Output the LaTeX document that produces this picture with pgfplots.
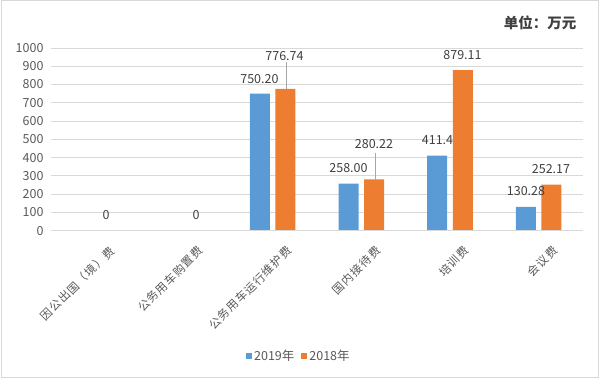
\documentclass[border=0pt]{standalone}
\usepackage{fontspec}
\setmainfont{Noto Sans CJK SC}
\newfontfamily\cjkls[LetterSpace=8]{Noto Sans CJK SC}
\usepackage{pgfplots}
\pgfplotsset{compat=1.18}
\definecolor{myblue}{HTML}{5B9BD5}
\definecolor{myorange}{HTML}{ED7D31}
\definecolor{gridgray}{HTML}{D9D9D9}
\definecolor{ticktext}{HTML}{595959}
\definecolor{labtext}{HTML}{404040}
\definecolor{leader}{HTML}{A6A6A6}
\begin{document}
\begin{tikzpicture}[x=1pt,y=1pt]
\useasboundingbox (0,0) rectangle (600,379);
\draw[gridgray, line width=1pt] (1,1.5) rectangle (598,378);
\node[font=\fontsize{14.5}{16}\selectfont\bfseries, text=labtext] at (540,356) {单位：万元};
\begin{axis}[
  at={(51pt,148.3pt)}, anchor=south west,
  scale only axis, width=532pt, height=182.7pt,
  xmin=-0.5, xmax=5.5, ymin=0, ymax=1000,
  enlargelimits=false,
  axis line style={draw=none},
  major tick length=0pt,
  ytick={0,100,...,1000},
  xtick={0,1,2,3,4,5},
  xticklabels={因公出国（境）费,公务用车购置费,公务用车运行维护费,国内接待费,培训费,会议费},
  ymajorgrids, grid style={gridgray, line width=0.8pt},
  /pgf/number format/assume math mode=true,
  /pgf/number format/1000 sep={},
  yticklabel style={font=\fontsize{12.5}{14}\selectfont, text=ticktext, xshift=-4pt},
  xticklabel style={font=\cjkls\fontsize{11.5}{13}\selectfont, text=ticktext, inner sep=0pt,
     xshift=13pt, yshift=-14pt, rotate=45, anchor=north east},
  legend style={at={(axis description cs:0.466,-0.686)}, anchor=center, draw=none,
     legend columns=2, font=\fontsize{12.5}{14}\selectfont, text=ticktext,
     /tikz/every even column/.append style={column sep=5pt}},
  legend cell align=left,
  clip=false,
]
\addplot[ybar, bar width=0.2256, bar shift=-0.144, fill=myblue, draw=none,
  legend image code/.code={\fill[myblue] (0pt,-3pt) rectangle (6pt,3pt);}]
  coordinates {(0,0) (1,0) (2,750.20) (3,258.00) (4,411.4) (5,130.28)};
\addlegendentry{2019年}
\addplot[ybar, bar width=0.2256, bar shift=0.144, fill=myorange, draw=none,
  legend image code/.code={\fill[myorange] (0pt,-3pt) rectangle (6pt,3pt);}]
  coordinates {(0,0) (1,0) (2,776.74) (3,280.22) (4,879.11) (5,252.17)};
\addlegendentry{2018年}
\draw[gridgray, line width=1.6pt] (axis cs:-0.5,0) -- (axis cs:5.5,0);
\draw[leader, line width=0.8pt] (axis cs:2.150,923) -- (axis cs:2.150,776);
\draw[leader, line width=0.8pt] (axis cs:3.154,425) -- (axis cs:3.154,280);
\begin{scope}[every node/.style={font=\fontsize{12.5}{14}\selectfont, text=labtext}]
\node at (axis cs:0.120,86.8) {0};
\node at (axis cs:1.135,86.8) {0};
\node at (axis cs:1.851,829.6) {750.20};
\node at (axis cs:2.133,957.9) {776.74};
\node at (axis cs:2.855,343) {258.00};
\node at (axis cs:3.143,474.5) {280.22};
\node at (axis cs:3.859,496) {411.4};
\node at (axis cs:4.141,961.7) {879.11};
\node at (axis cs:4.857,217) {130.28};
\node at (axis cs:5.139,337.7) {252.17};
\end{scope}
\end{axis}
\end{tikzpicture}
\end{document}
